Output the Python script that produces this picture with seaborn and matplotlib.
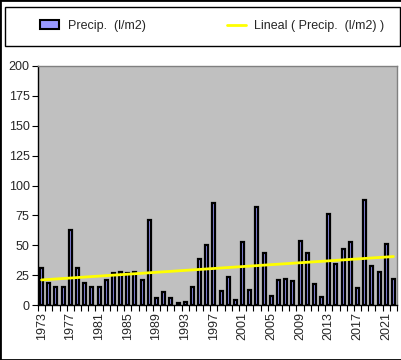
import numpy as np
import pandas as pd
import matplotlib
matplotlib.use('Agg')
import matplotlib.pyplot as plt
import seaborn as sns
from matplotlib.patches import Patch, Rectangle
from matplotlib.lines import Line2D

# Data
years = list(range(1973, 2023))
precip = [31.2, 18.7, 15.4, 15.4, 62.9, 31.2, 18.7, 15.4, 15.4, 21.2,
          27.0, 27.9, 27.0, 27.9, 21.2, 71.2, 6.2, 11.2, 6.2, 1.4,
          2.3, 15.4, 38.7, 50.4, 85.4, 12.1, 23.7, 4.6, 52.9, 12.9,
          82.1, 43.7, 7.9, 21.2, 22.1, 20.4, 53.7, 43.7, 17.9, 7.1,
          76.2, 34.6, 47.1, 52.9, 14.6, 87.9, 32.9, 27.9, 51.2, 22.1]
label_years = [1973, 1977, 1981, 1985, 1989, 1993, 1997, 2001, 2005,
               2009, 2013, 2017, 2021]
yticks = [0, 25, 50, 75, 100, 125, 150, 175, 200]
labels = ['Precip.  (l/m2)', 'Lineal ( Precip.  (l/m2) )']

sns.set_style('white')
plt.rcParams['font.family'] = ['Liberation Sans', 'DejaVu Sans']

df = pd.DataFrame({'year': [str(y) for y in years], 'precip': precip})

fig = plt.figure(figsize=(4.02, 3.6), dpi=100)
ax = fig.add_axes([38 / 402, 55 / 360, 359 / 402, 239 / 360])
ax.set_facecolor('#C0C0C0')

sns.barplot(data=df, x='year', y='precip', color='#9999FF', saturation=1,
            edgecolor='black', linewidth=1.6, width=0.42, ax=ax)

# linear trend line
sns.regplot(x=np.arange(len(precip)), y=precip, scatter=False, ci=None,
            truncate=True, color='#FFFF00', line_kws={'linewidth': 2}, ax=ax)

ax.set_xlim(-0.5, len(years) - 0.5)
ax.set_ylim(0, 200)
ax.set_xlabel('')
ax.set_ylabel('')

ax.set_xticks([years.index(y) for y in label_years])
ax.set_xticklabels([str(y) for y in label_years], rotation=90, fontsize=9)
ax.set_xticks(np.arange(-0.5, len(years), 1), minor=True)
ax.tick_params(axis='x', which='major', bottom=True, length=0, pad=5)
ax.tick_params(axis='x', which='minor', bottom=True, length=4, width=0.8,
               color='black', direction='out')
ax.set_yticks(yticks)
ax.set_yticklabels([str(v) for v in yticks], fontsize=9)
ax.tick_params(axis='y', left=True, length=4, width=0.8, color='black',
               direction='out', pad=2)

for s in ['left', 'bottom']:
    ax.spines[s].set_color('black')
    ax.spines[s].set_linewidth(1)
for s in ['top', 'right']:
    ax.spines[s].set_color('#808080')
    ax.spines[s].set_linewidth(1)

handles = [Patch(facecolor='#9999FF', edgecolor='black', linewidth=1.5),
           Line2D([0], [0], color='#FFFF00', lw=2)]
fig.legend(handles, labels, loc='center', bbox_to_anchor=(0.528, 0.928),
           ncol=2, frameon=False, fontsize=9, handlelength=1.5,
           handleheight=0.7, handletextpad=0.7, columnspacing=6.5)

fig.add_artist(Rectangle((5 / 402, 1 - 46 / 360), 395 / 402, 39 / 360,
                         transform=fig.transFigure, fill=False,
                         edgecolor='black', linewidth=1))
fig.add_artist(Rectangle((0, 0), 1, 1, transform=fig.transFigure,
                         fill=False, edgecolor='black', linewidth=2))

fig.savefig('out.png', dpi=100)
